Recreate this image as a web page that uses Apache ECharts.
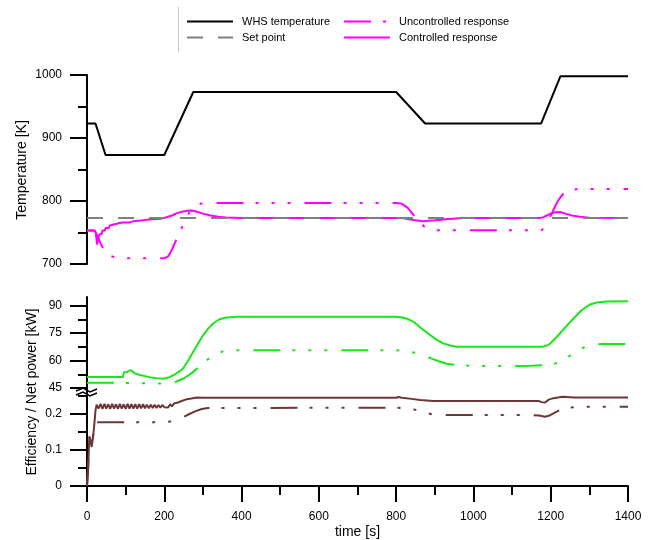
<!DOCTYPE html>
<html>
<head>
<meta charset="utf-8">
<script src="https://cdn.jsdelivr.net/npm/echarts@6/dist/echarts.min.js"></script>
<style>html,body{margin:0;padding:0;background:#fff;}#c{width:656px;height:540px;}</style>
</head>
<body>
<div id="c"></div>
<script>
// ---- data ----
const timeTicks = [0, 200, 400, 600, 800, 1000, 1200, 1400];
const powerTicks = [45, 60, 75, 90];
const powerMinorTicks = [52.5, 67.5, 82.5];
const effTicks = [0, 0.1, 0.2];
const effMinorTicks = [0.05, 0.15, 0.25];

const whsT = [0, 22, 48, 200, 275, 800, 875, 1175, 1225, 1400];
const whsV = [923, 923, 873, 873, 973, 973, 923, 923, 998, 998];

const setT = [0, 1400];
const setV = [773, 773];

const uncT = [0, 20, 25, 30, 35, 40, 45, 50, 60, 75, 90, 200, 210, 220, 230, 240, 250, 260, 270, 280, 295, 320, 800, 815, 830, 845, 860, 875, 890, 910, 1176, 1185, 1195, 1205, 1215, 1225, 1235, 1250, 1270, 1400];
const uncV = [753, 753, 747, 740, 733, 727, 722, 718, 713, 710, 709, 709, 712, 723, 737, 750, 764, 777, 787, 792, 796, 797, 797, 795.5, 789, 778, 767, 758, 754, 753.5, 753.5, 758, 770, 783, 796, 806, 813, 817.5, 819, 819];

const ctlT = [0, 20, 23, 26, 28, 30, 32, 34, 36, 38, 40, 42, 44, 46, 48, 50, 53, 56, 59, 62, 65, 68, 71, 74, 77, 80, 84, 88, 92, 96, 100, 105, 110, 120, 130, 140, 150, 160, 170, 180, 190, 200, 210, 220, 230, 240, 250, 260, 272, 285, 300, 320, 340, 360, 400, 800, 820, 845, 870, 900, 935, 975, 1170, 1180, 1190, 1200, 1212, 1224, 1238, 1255, 1275, 1300, 1400];
const ctlV = [753, 753, 748, 731, 736, 742, 747, 745, 750, 748, 753, 751, 755, 753, 757, 755, 759, 757, 761, 759, 762, 760, 763, 761.5, 764, 762.5, 765, 763.5, 766, 764.5, 766, 767, 766, 768, 768.5, 769, 770, 770.5, 771, 771.5, 772, 773, 775, 777, 780, 782, 783.5, 784.5, 785, 783, 780, 777, 775, 774, 773, 773, 772.5, 770, 768, 769.5, 771.5, 773, 773, 774, 777, 780, 782, 782.5, 780, 777, 775, 773.5, 773];

const pwrT = [0, 93, 96, 100, 104, 108, 113, 118, 124, 137, 150, 165, 180, 197, 212, 228, 240, 249, 262, 275, 288, 301, 314, 327, 343, 361, 390, 800, 815, 831, 845, 866, 888, 905, 922, 940, 957, 1180, 1195, 1216, 1237, 1259, 1280, 1300, 1320, 1345, 1400];
const pwrV = [51, 51, 53.6, 54.3, 53.8, 54.2, 54.8, 54, 53, 52.1, 51.5, 50.8, 50.4, 50.1, 50.8, 52.5, 54.2, 55.8, 60, 64.8, 69.5, 74, 77.6, 80.4, 82.6, 83.5, 84, 84, 83.5, 82.7, 81.2, 77.5, 74, 71.3, 69.4, 68.2, 67.6, 67.6, 68.6, 73, 78, 83, 87.5, 90.5, 91.8, 92.3, 92.4];

const pwrUT = [0, 100, 150, 193, 215, 230, 250, 270, 288, 302, 316, 335, 353, 380, 800, 814, 835, 856, 875, 894, 912, 931, 960, 1000, 1150, 1190, 1210, 1224, 1240, 1257, 1275, 1293, 1315, 1334, 1400];
const pwrUV = [47.9, 47.8, 47.6, 47.4, 47.8, 48.4, 50.2, 53, 56.1, 58.7, 61.2, 63.5, 65.2, 65.6, 65.6, 65.4, 64.8, 64, 62.5, 60.9, 59.5, 58.3, 57.5, 57, 57.1, 57.6, 58.3, 59.4, 61.5, 63.6, 66, 68, 68.8, 69, 69];

const effT = [0, 3, 6, 9, 12, 15, 18, 22, 25,
  30, 35, 40, 45, 50, 55, 60, 65, 70, 75, 80, 85, 90, 95, 100, 105, 110, 115, 120, 125,
  130, 135, 140, 145, 150, 155, 160, 165, 170, 175, 180, 185, 190, 195, 200, 205, 210, 215, 220, 225,
  230, 235, 240, 245, 250, 255, 260,
  270, 284, 300, 800, 806, 815, 840, 862, 896,
  1170, 1176, 1181, 1185, 1195, 1207, 1231, 1260, 1400];
const effV = [0, 0.05, 0.138, 0.13, 0.108, 0.13, 0.16, 0.21, 0.226,
  0.215, 0.228, 0.214, 0.228, 0.215, 0.227, 0.214, 0.228, 0.215, 0.227, 0.214, 0.228, 0.215, 0.227, 0.214, 0.228, 0.215, 0.227, 0.215, 0.227,
  0.215, 0.227, 0.216, 0.227, 0.216, 0.226, 0.216, 0.226, 0.217, 0.226, 0.217, 0.225, 0.218, 0.225, 0.219, 0.224, 0.218, 0.227, 0.221, 0.229,
  0.224, 0.232, 0.228, 0.236, 0.232, 0.24, 0.238,
  0.243, 0.246, 0.245, 0.245, 0.247, 0.245, 0.242, 0.239, 0.236,
  0.236, 0.233, 0.234, 0.232, 0.24, 0.244, 0.248, 0.246, 0.246];

const effUT = [0, 3, 6, 9, 12, 15, 18, 21, 200, 215, 230, 249, 265, 281, 297, 313, 800, 830, 853, 875, 894, 931, 1150, 1170, 1185, 1195, 1207, 1222, 1237, 1260, 1276, 1400];
const effUV = [0, 0.05, 0.138, 0.13, 0.108, 0.13, 0.16, 0.177, 0.177, 0.179, 0.183, 0.191, 0.2, 0.208, 0.214, 0.2167, 0.2175, 0.216, 0.211, 0.204, 0.199, 0.197, 0.197, 0.196, 0.1925, 0.195, 0.202, 0.21, 0.216, 0.219, 0.22, 0.22];

// ---- styling ----
const FONT = 'Liberation Sans, Arial, sans-serif';
const DASHDOT = [27, 12, 3, 13, 3, 13, 3, 14];
const DASHED = [16, 15];
const MAGENTA = '#ff00ff', GREEN = '#19e619', BROWN = '#6b3737', GREY = '#808080';

const zip = (t, v) => t.map((x, i) => [x, v[i]]);
const plain = v => String(v);

function line(name, t, v, xi, yi, color, type) {
  return {
    name, type: 'line', xAxisIndex: xi, yAxisIndex: yi, data: zip(t, v),
    symbol: 'none', showSymbol: false, smooth: false, animation: false,
    lineStyle: { color, width: 2, type: type || 'solid', cap: 'butt' },
    itemStyle: { color },
    emphasis: { disabled: true }
  };
}

const axisBase = {
  axisLine: { show: true, onZero: false, lineStyle: { color: '#000', width: 2 } },
  splitLine: { show: false },
};
const tickStyle = { color: '#000', width: 2 };
const labelStyle = { color: '#000', fontSize: 12, fontFamily: FONT, margin: 25, formatter: plain };

const grids = [
  { left: 87, right: 28, top: 75, height: 189 },
  { left: 87, right: 28, top: 297, height: 91 },
  { left: 87, right: 28, top: 396, height: 90 }
];

const legendBase = {
  top: 16, orient: 'vertical', itemWidth: 46, itemHeight: 12, itemGap: 5, padding: 0,
  selectedMode: false,
  itemStyle: { opacity: 0, borderWidth: 0 },
  textStyle: { fontSize: 11, color: '#000', fontFamily: FONT, padding: [0, 0, 0, 4] }
};

const option = {
  animation: false,
  backgroundColor: '#fff',
  textStyle: { fontFamily: FONT },
  grid: grids,
  legend: [
    Object.assign({}, legendBase, { data: ['WHS temperature', 'Set point'], left: 186 }),
    Object.assign({}, legendBase, { data: ['Uncontrolled response', 'Controlled response'], left: 343 })
  ],
  xAxis: [
    { gridIndex: 0, type: 'value', min: 0, max: 1400, show: false },
    { gridIndex: 1, type: 'value', min: 0, max: 1400, show: false },
    Object.assign({}, axisBase, {
      gridIndex: 2, type: 'value', min: 0, max: 1400, interval: 200, position: 'bottom',
      axisTick: { show: true, length: 16, lineStyle: tickStyle },
      minorTick: { show: true, splitNumber: 2, length: 9, lineStyle: tickStyle },
      axisLabel: { color: '#000', fontSize: 12, fontFamily: FONT, margin: 25,
        customValues: timeTicks, formatter: plain },
      name: 'time [s]', nameLocation: 'middle', nameGap: 39,
      nameTextStyle: { color: '#000', fontSize: 14, fontFamily: FONT }
    })
  ],
  yAxis: [
    Object.assign({}, axisBase, {
      gridIndex: 0, type: 'value', min: 700, max: 1000, interval: 100, position: 'left',
      axisTick: { show: true, length: 17, lineStyle: tickStyle },
      minorTick: { show: true, splitNumber: 2, length: 9, lineStyle: tickStyle },
      axisLabel: labelStyle
    }),
    Object.assign({}, axisBase, {
      gridIndex: 1, type: 'value', min: 45, max: 94.75, position: 'left',
      axisTick: { show: true, length: 17, lineStyle: tickStyle, customValues: powerTicks },
      axisLabel: Object.assign({}, labelStyle, { customValues: powerTicks })
    }),
    {
      gridIndex: 1, type: 'value', min: 45, max: 94.75, position: 'left',
      axisLine: { show: false }, splitLine: { show: false },
      axisTick: { show: true, length: 9, lineStyle: tickStyle, customValues: powerMinorTicks },
      axisLabel: { show: false }
    },
    Object.assign({}, axisBase, {
      gridIndex: 2, type: 'value', min: 0, max: 0.25, position: 'left',
      axisTick: { show: true, length: 17, lineStyle: tickStyle, customValues: effTicks },
      axisLabel: Object.assign({}, labelStyle, { customValues: effTicks })
    }),
    {
      gridIndex: 2, type: 'value', min: 0, max: 0.25, position: 'left',
      axisLine: { show: false }, splitLine: { show: false },
      axisTick: { show: true, length: 9, lineStyle: tickStyle, customValues: effMinorTicks },
      axisLabel: { show: false }
    }
  ],
  series: [
    line('WHS temperature', whsT, whsV, 0, 0, '#000'),
    line('Uncontrolled response', uncT, uncV, 0, 0, MAGENTA, DASHDOT),
    line('Controlled response', ctlT, ctlV, 0, 0, MAGENTA),
    line('Set point', setT, setV, 0, 0, GREY, DASHED),
    line('Net power (controlled)', pwrT, pwrV, 1, 1, GREEN),
    line('Net power (uncontrolled)', pwrUT, pwrUV, 1, 1, GREEN, DASHDOT),
    line('Efficiency (controlled)', effT, effV, 2, 3, BROWN),
    line('Efficiency (uncontrolled)', effUT, effUV, 2, 3, BROWN, DASHDOT)
  ],
  graphic: [
    { type: 'line', shape: { x1: 178.5, y1: 7, x2: 178.5, y2: 52 }, style: { stroke: '#c8c8c8', lineWidth: 1 } },
    { type: 'line', shape: { x1: 87, y1: 388, x2: 87, y2: 396 }, style: { stroke: '#000', lineWidth: 2 } },
    { type: 'polyline', shape: { points: [[76, 391], [83, 388], [90, 392], [97, 389]] }, style: { stroke: '#000', lineWidth: 1.5, fill: null } },
    { type: 'polyline', shape: { points: [[76, 395], [83, 392], [90, 396], [97, 393]] }, style: { stroke: '#000', lineWidth: 1.5, fill: null } },
    { type: 'text', x: 22, y: 170, rotation: Math.PI / 2,
      style: { text: 'Temperature [K]', fontSize: 14, fontFamily: FONT, fill: '#000', align: 'center', verticalAlign: 'middle' } },
    { type: 'text', x: 32, y: 392, rotation: Math.PI / 2,
      style: { text: 'Efficiency / Net power [kW]', fontSize: 14, fontFamily: FONT, fill: '#000', align: 'center', verticalAlign: 'middle' } }
  ]
};

const chart = echarts.init(document.getElementById('c'), null, { renderer: 'canvas' });
chart.setOption(option);
</script>
</body>
</html>
